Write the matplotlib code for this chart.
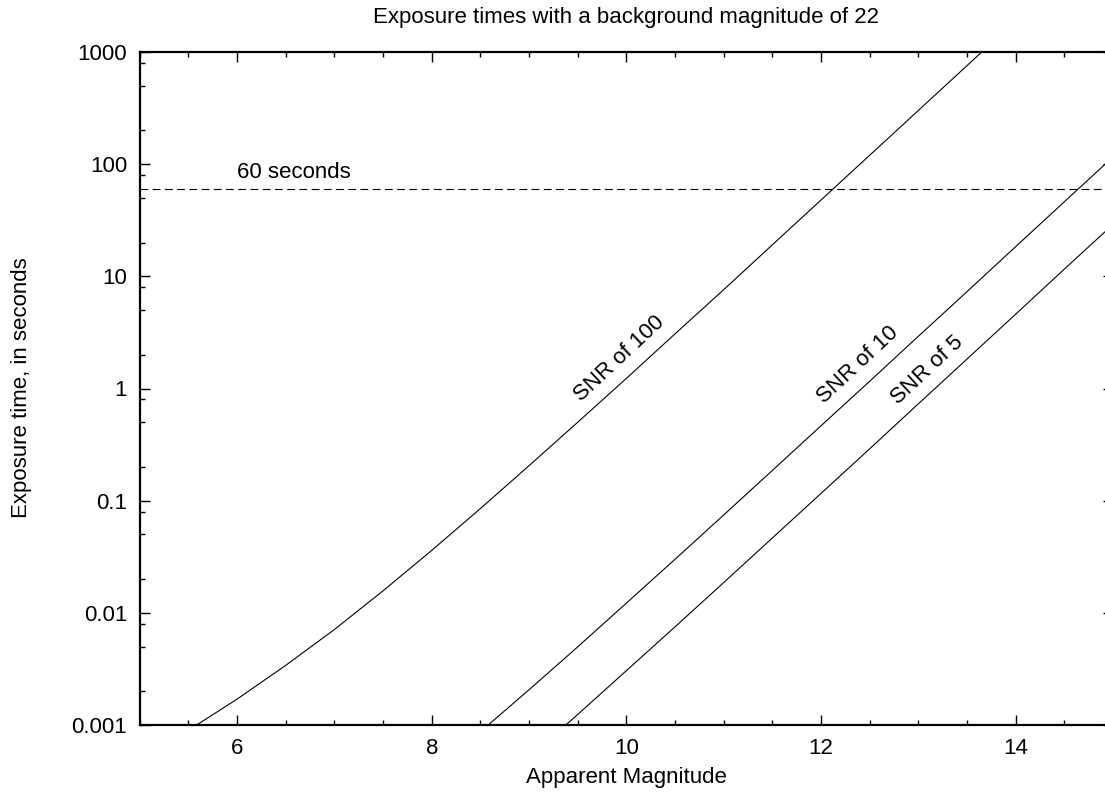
import matplotlib
matplotlib.use("Agg")
import matplotlib.pyplot as plt
from matplotlib.ticker import LogLocator, MultipleLocator, FixedLocator, FuncFormatter

plt.rcParams["font.family"] = ["Liberation Sans", "DejaVu Sans"]

# values (apparent magnitude, exposure time in s)
mag_snr100 = [5.5, 5.585, 6.0, 6.5, 7.0, 7.5, 8.0, 8.5, 9.0, 9.5, 10.0, 10.5, 11.0, 11.5, 12.0, 12.5, 13.0, 13.5, 13.75]
t_snr100 = [0.0009, 0.001, 0.0017, 0.0034, 0.0071, 0.0157, 0.036, 0.085, 0.205, 0.50, 1.23, 3.07, 7.6, 19.1, 47.9, 120, 301, 756, 1200]

mag_snr10 = [8.5, 9.0, 9.5, 10.0, 10.5, 11.0, 11.5, 12.0, 12.5, 13.0, 13.5, 14.0, 14.5, 15.0]
t_snr10 = [0.00087, 0.00206, 0.00497, 0.0122, 0.030, 0.0745, 0.186, 0.465, 1.16, 2.92, 7.3, 18.4, 46.2, 116]

mag_snr5 = [9.3, 9.5, 10.0, 10.5, 11.0, 11.5, 12.0, 12.5, 13.0, 13.5, 14.0, 14.5, 15.0]
t_snr5 = [0.00087, 0.00124, 0.00305, 0.0075, 0.0186, 0.0465, 0.116, 0.29, 0.73, 1.83, 4.6, 11.6, 29]

curve_labels = ["SNR of 100", "SNR of 10", "SNR of 5"]
label_pos = [(9.93, 1.84), (12.38, 1.62), (13.09, 1.47)]

limit_seconds = 60
y_ticks = [0.001, 0.01, 0.1, 1, 10, 100, 1000]

W, H = 1105, 795
FS = 16
fig = plt.figure(figsize=(W / 100, H / 100), dpi=100)
# right edge of the plot box lies just outside the image, as in the reference
ax = fig.add_axes([139.7 / W, 70 / H, (1113 - 139.7) / W, 673 / H])

for m, t in [(mag_snr100, t_snr100), (mag_snr10, t_snr10), (mag_snr5, t_snr5)]:
    ax.plot(m, t, color="black", lw=0.8)

ax.axhline(limit_seconds, color="black", lw=0.8, dashes=(7, 4))
ax.text(6.0, 68, "60 seconds", fontsize=FS, ha="left", va="bottom")

for txt, (x, y) in zip(curve_labels, label_pos):
    ax.text(x, y, txt, fontsize=FS, rotation=43, rotation_mode="anchor",
            ha="center", va="center")

ax.set_xlim(5, 15)
ax.set_yscale("log")
ax.set_ylim(0.001, 1000)

ax.xaxis.set_major_locator(FixedLocator([6, 8, 10, 12, 14]))
ax.xaxis.set_minor_locator(MultipleLocator(0.5))
ax.yaxis.set_major_locator(FixedLocator(y_ticks))
ax.yaxis.set_minor_locator(LogLocator(base=10, subs=[2, 5, 8]))
ax.yaxis.set_major_formatter(FuncFormatter(lambda v, p: "%g" % v))
ax.yaxis.set_minor_formatter(FuncFormatter(lambda v, p: ""))

ax.tick_params(which="both", direction="in", top=True, right=True, width=1.0,
               labelsize=FS, colors="black")
ax.tick_params(which="major", length=7.2, pad=9)
ax.tick_params(which="minor", length=3.6)
for s in ax.spines.values():
    s.set_linewidth(1.6)

fig.text(626 / W, 1 - 18 / H, "Exposure times with a background magnitude of 22",
         fontsize=FS, ha="center", va="center")
fig.text(626 / W, 1 - 778 / H, "Apparent Magnitude", fontsize=FS,
         ha="center", va="center")
fig.text(22 / W, 1 - 388 / H, "Exposure time, in seconds", fontsize=FS,
         ha="center", va="center", rotation=90)

fig.savefig("out.png", dpi=100)
